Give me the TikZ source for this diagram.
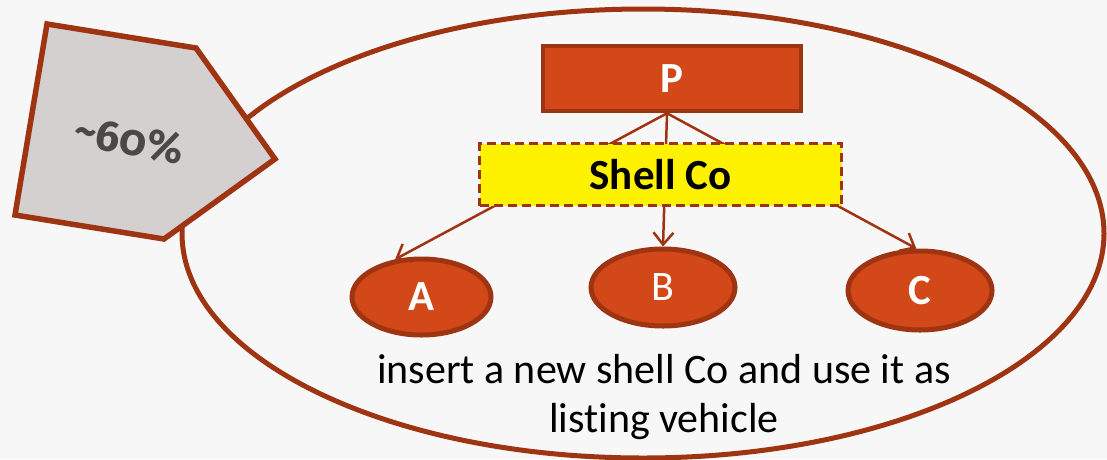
\documentclass[tikz,border=0pt]{standalone}
\usepackage{fontspec}
\setmainfont[Ligatures=NoCommon]{Carlito}
\newfontfamily\pctfont[Numbers=OldStyle]{Fira Sans}
\usetikzlibrary{arrows.meta,shapes.geometric}
\definecolor{rust}{HTML}{9E3412}
\definecolor{orng}{HTML}{D24818}
\definecolor{grayfill}{HTML}{D4D0CF}
\definecolor{bg}{HTML}{F7F7F7}
\definecolor{txtgray}{HTML}{4D4848}
\tikzset{
  pbox/.style={rectangle, draw=rust, fill=orng, line width=4.5pt, inner sep=0pt,
    minimum width=258pt, minimum height=65pt, text=white,
    font=\fontsize{43}{43}\selectfont\bfseries},
  shellbox/.style={rectangle, draw=rust, fill=yellow, line width=3.5pt, inner sep=0pt,
    dash pattern=on 9pt off 5pt,
    minimum width=362pt, minimum height=62pt, text=black,
    font=\fontsize{43}{43}\selectfont\bfseries},
  subco/.style={ellipse, draw=rust, fill=orng, line width=5pt, inner sep=0pt,
    text=white, font=\fontsize{43}{43}\selectfont\bfseries},
  conn/.style={draw=rust, line width=2.5pt,
    -{Straight Barb[length=12pt,width=20pt,line width=2.5pt]}},
}
\begin{document}
\begin{tikzpicture}[x=1pt,y=-1pt]
\fill[bg] (0,0) rectangle (1107,459);
\useasboundingbox (0,0) rectangle (1107,459);
% outer ellipse
\node[ellipse, draw=rust, line width=5pt, inner sep=0pt,
  minimum width=922pt, minimum height=449pt] (group) at (643,233.5) {};
% pentagon
\draw[draw=rust, fill=grayfill, line width=5.5pt]
  (47,24) -- (196,48) -- (275,159) -- (164,239) -- (15,215) -- cycle;
\node[text=txtgray, rotate=-11, font=\fontsize{43}{43}\selectfont\pctfont\bfseries]
  (pct) at (129,140) {\textasciitilde 60\%};
% nodes
\node[pbox] (P) at (672,78.5) {P};
\node[subco, minimum width=139pt, minimum height=76pt] (A) at (421.5,297) {A};
\node[subco, minimum width=144pt, minimum height=77pt,
  font=\fontsize{42}{42}\selectfont] (B) at (663,287.5) {B};
\node[subco, minimum width=144pt, minimum height=79pt] (C) at (920,290.5) {C};
% connectors
\coordinate (ps) at ([xshift=-5pt]P.south);
\draw[conn] (ps) -- (A.125);
\draw[conn] (ps) -- (B.north);
\draw[conn] (ps) -- (C.95);
% shell company on top
\node[shellbox] (S) at (660.5,174.5) {Shell Co};
% caption
\node[align=center, font=\fontsize{42}{49}\selectfont, text=black] (cap)
  at (664,397) {insert a new shell Co and use it as\\listing vehicle};
\end{tikzpicture}
\end{document}
